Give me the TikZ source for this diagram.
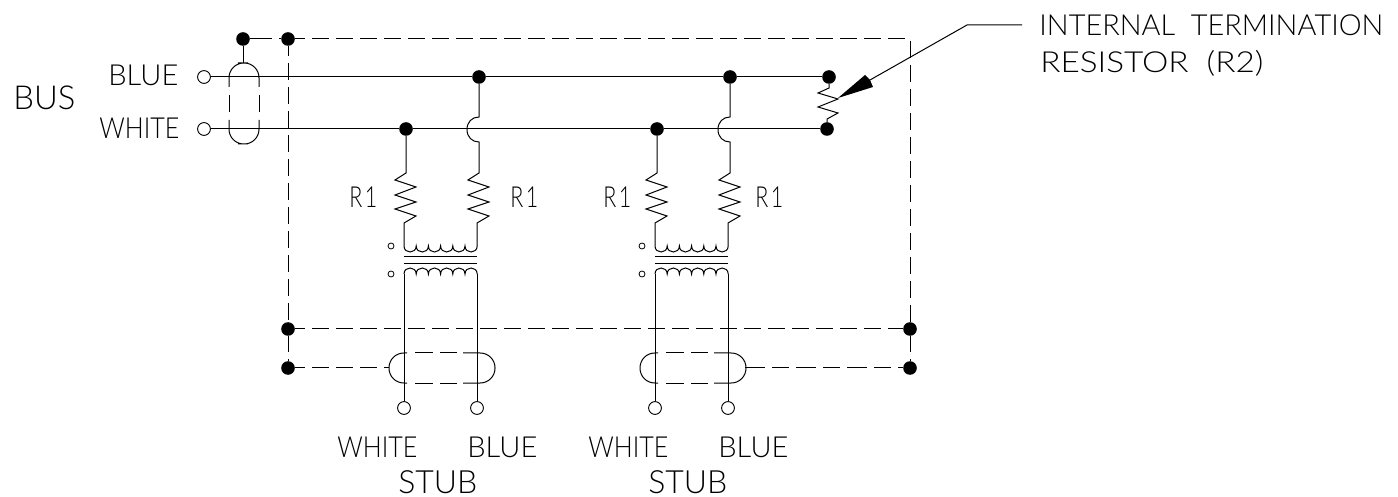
\documentclass[tikz,border=0pt]{standalone}
\usepackage{fontspec}
\usepackage{graphicx}
\newfontfamily\lblfont[UprightFont=* Light]{Lato}
\newcommand{\lab}[6]{\node[lbl] (#1) at (#2,#3) {\resizebox{#4pt}{\height}{\fontsize{#5}{#5}\lblfont #6}};}
\newcommand{\coilup}[2]{\draw[wire] (#1,#2) \foreach \i in {0,...,5} { .. controls ({#1+\i*12.2},#2+8) and ({#1+(\i+1)*12.2},#2+8) .. ({#1+(\i+1)*12.2},#2)};}
\newcommand{\coildn}[2]{\draw[wire] (#1,#2) \foreach \i in {0,...,5} { .. controls ({#1+\i*12.2},#2-8) and ({#1+(\i+1)*12.2},#2-8) .. ({#1+(\i+1)*12.2},#2)};}
\tikzset{
  wire/.style={line width=0.5pt,black},
  dline/.style={line width=0.5pt,black,dash pattern=on 8.5pt off 3.5pt},
  dot/.style={circle,fill=black,draw=none,minimum size=6.8pt,inner sep=0pt},
  term/.style={circle,draw=black,fill=white,line width=0.45pt,minimum size=6.4pt,inner sep=0pt},
  tap/.style={circle,draw=black,fill=white,line width=0.4pt,minimum size=3pt,inner sep=0pt},
  lbl/.style={anchor=base west,inner sep=0pt,text=black},
  capline/.style={line width=0.5pt,black,rounded corners=7.4pt}
}
\begin{document}
\begin{tikzpicture}[x=0.5pt,y=-0.5pt]
\useasboundingbox (0,0) rectangle (1398,497);
% named points
\node[dot] (gnd) at (243,39) {};
\node[dot] (tl) at (288,39) {};
\coordinate (tr) at (910,39);
\node[dot] (ml) at (288,329) {};
\node[dot] (mr) at (910,329) {};
\node[dot] (bl) at (288,368) {};
\node[dot] (br) at (910,368) {};
\node[term] (busB) at (204,77) {};
\node[term] (busW) at (204,129) {};
\node[dot] (b1) at (479,77) {};
\node[dot] (b2) at (730,77) {};
\node[dot] (b3) at (829,77) {};
\node[dot] (w1) at (406,129) {};
\node[dot] (w2) at (657,129) {};
\node[dot] (w3) at (827,129) {};
\foreach \n/\x in {a/404,b/477,c/655,d/728}{\node[term] (t\n) at (\x,408) {};}
\foreach \y/\n in {246/u,274/l}{\node[tap] (p1\n) at (391,\y) {};\node[tap] (p2\n) at (642,\y) {};}
% bus wires
\draw[wire] (busB) -- (b1) -- (b2) -- (b3);
\draw[wire] (busW) -- (w1) -- (w2) -- (w3);
% dashed frame
\draw[dline,dash pattern=on 11pt off 3.5pt] (gnd) -- (tl);
\draw[dline,dash phase=3.5pt] (tl) -- (tr) -- (mr);
\draw[dline,dash phase=3.5pt] (tl) -- (ml);
\draw[dline,dash phase=3.5pt] (ml) -- (mr);
\draw[dline,dash pattern=on 8pt off 3.5pt] (ml) -- (bl);
\draw[dline,dash pattern=on 8pt off 3.5pt] (mr) -- (br);
\draw[dline,dash phase=3.5pt] (bl) -- (389,368);
\draw[dline,dash pattern=on 10pt off 3.5pt on 8.5pt off 3.5pt] (745,368) -- (br);
% bus shield
\coordinate (shtop) at (243,63);
\draw[wire] (gnd) -- (shtop);
\draw[capline] (238,63) -- (229,63) -- (229,87);
\draw[capline] (248,63) -- (259,63) -- (259,87);
\draw[capline] (238,144) -- (229,144) -- (229,120);
\draw[capline] (248,144) -- (259,144) -- (259,120);
\draw[wire] (229,95) -- (229,112);
\draw[wire] (259,95) -- (259,112);
% stub branches
\foreach \ofs/\a/\b/\ta/\tb/\wdot/\bdot in {0/406/479/404/477/w1/b1, 251/657/730/655/728/w2/b2}{
  % white branch
  \draw[wire] (\wdot) -- (\a,173) -- (\a-11,180) -- (\a+10,187) -- (\a-11,195) -- (\a+10,202) -- (\a-11,209) -- (\a+10,216) -- (\ta,223) -- (\ta,246);
  % blue branch with hop
  \draw[wire] (\bdot) -- (\b,117) .. controls (\b-7,117) and (\b-12,122) .. (\b-12,129.5) .. controls (\b-12,137) and (\b-7,142) .. (\b,142) -- (\b,173) -- (\b-11,180) -- (\b+10,187) -- (\b-11,195) -- (\b+10,202) -- (\b-11,209) -- (\b+10,216) -- (\tb,223) -- (\tb,246);
  \coilup{\ta}{246}
  \coildn{\ta}{274}
  \draw[wire] (\ta,257) -- (\tb,257);
  \draw[wire] (\ta,264) -- (\tb,264);
}
\draw[wire] (404,274) -- (ta);
\draw[wire] (477,274) -- (tb);
\draw[wire] (655,274) -- (tc);
\draw[wire] (728,274) -- (td);
% stub shields
\foreach \o in {0,251}{
  \draw[capline] (407+\o,353) -- (389+\o,353) -- (389+\o,383) -- (407+\o,383);
  \draw[capline] (463+\o,353) -- (495+\o,353) -- (495+\o,383) -- (463+\o,383);
  \draw[wire] (415+\o,353) -- (433+\o,353);
  \draw[wire] (440+\o,353) -- (457+\o,353);
  \draw[wire] (415+\o,383) -- (433+\o,383);
  \draw[wire] (440+\o,383) -- (457+\o,383);
}
% termination resistor
\draw[wire] (b3) -- (829,88) -- (818,93) -- (838,99) -- (818,107) -- (838,113) -- (827,119) -- (w3);
% leader
\coordinate (ldA) at (1022,25);
\coordinate (ldB) at (967,25);
\coordinate (ldC) at (870,80);
\draw[wire] (ldA) -- (ldB) -- (ldC);
\fill[black] (838,98) -- (865,75) -- (870,80) -- (873,87) -- cycle;
% labels
\lab{bus}{13}{110}{31}{16.5}{BUS}
\lab{lblue}{108}{86}{35}{14.5}{BLUE}
\lab{lwhite}{99}{139}{40}{14.5}{WHITE}
\lab{r1a}{349}{208}{14}{14.5}{R\hspace{0.12em}1}
\lab{r1b}{510}{208}{14}{14.5}{R\hspace{0.12em}1}
\lab{r1c}{603}{208}{14}{14.5}{R\hspace{0.12em}1}
\lab{r1d}{755}{208}{14}{14.5}{R\hspace{0.12em}1}
\lab{w1l}{337}{457}{40}{14.5}{WHITE}
\lab{b1l}{467}{457}{35}{14.5}{BLUE}
\lab{w2l}{588}{457}{40}{14.5}{WHITE}
\lab{b2l}{718}{457}{35}{14.5}{BLUE}
\lab{st1}{398}{493.5}{39.5}{16}{STUB}
\lab{st2}{648}{493.5}{39.5}{16}{STUB}
\lab{itr}{1039}{36}{172}{14.5}{INTERNAL\ \ TERMINATION}
\lab{rr2}{1040}{73}{111.5}{14.5}{RESISTOR\ \ (R2)}
\end{tikzpicture}
\end{document}
